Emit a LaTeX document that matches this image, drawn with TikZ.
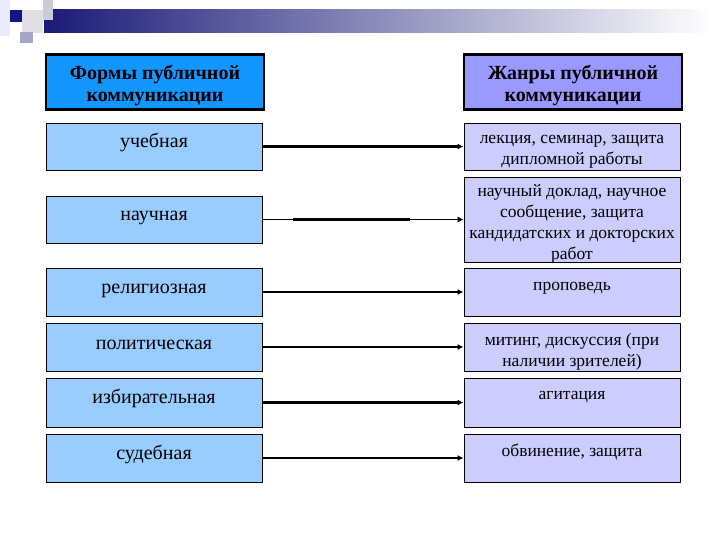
\documentclass[tikz,border=0pt]{standalone}
\usepackage{fontspec}
\setmainfont{Liberation Serif}
\usetikzlibrary{arrows.meta}
\definecolor{hblue}{RGB}{20,150,255}
\definecolor{rowblue}{RGB}{153,204,255}
\definecolor{hviolet}{RGB}{153,153,255}
\definecolor{rowviolet}{RGB}{204,204,255}
\definecolor{navy}{RGB}{26,26,120}
\definecolor{darksq}{RGB}{20,20,140}
\tikzset{
  hbox/.style={draw=black, line width=2.2pt, minimum width=218pt, minimum height=55pt, inner sep=0pt},
  lbox/.style={draw=black, line width=0.9pt, fill=rowblue, minimum width=216pt, inner sep=0pt},
  rbox/.style={draw=black, line width=0.9pt, fill=rowviolet, minimum width=216pt, inner sep=0pt},
  htext/.style={font=\fontsize{20}{22}\selectfont\bfseries, align=center, anchor=north, inner sep=0pt},
  ltext/.style={font=\fontsize{20}{22}\selectfont, anchor=base, inner sep=0pt},
  rtext/.style={font=\fontsize{17.5}{21}\selectfont, align=center, anchor=north, inner sep=0pt},
  conn/.style={-{Latex[length=6pt,width=6pt]}, line width=2.2pt},
  thinconn/.style={-{Latex[length=6pt,width=6pt]}, line width=0.8pt},
}
\begin{document}
\begin{tikzpicture}[x=1pt,y=-1pt]
\useasboundingbox (0,0) rectangle (720,540);
% decoration
\fill[white] (0,0) rectangle (720,540);
\shade[left color=navy, right color=white, shading angle=90] (44,10) rectangle (712,33);
\fill[black!6!blue!8] (0,0) rectangle (10,36);
\fill[blue!20!black!20] (43,0) rectangle (53,20);
\fill[blue!12!black!12] (22,10) rectangle (43,33);
\fill[blue!40!black!35] (20,32) rectangle (33,43);
\fill[darksq] (10,10) rectangle (22,22);
% headers
\node[hbox, fill=hblue] (H1) at (155,82) {};
\node[hbox, fill=hviolet] (H2) at (573,82) {};
\node[htext] (H1t) at (155,63.6) {\strut Формы публичной\\коммуникации};
\node[htext] (H2t) at (573,63.6) {\strut Жанры публичной\\коммуникации};
% left boxes
\node[lbox, minimum height=47pt] (L1) at (154,146.5) {};
\node[lbox, minimum height=47pt] (L2) at (154,219.5) {};
\node[lbox, minimum height=48pt] (L3) at (154,292) {};
\node[lbox, minimum height=48pt] (L4) at (154,347) {};
\node[lbox, minimum height=49pt] (L5) at (154,402.5) {};
\node[lbox, minimum height=48pt] (L6) at (154,458) {};
% right boxes
\node[rbox, minimum height=47pt] (R1) at (572,146.5) {};
\node[rbox, minimum height=85pt] (R2) at (572,219.5) {};
\node[rbox, minimum height=48pt] (R3) at (572,292) {};
\node[rbox, minimum height=48pt] (R4) at (572,347) {};
\node[rbox, minimum height=49pt] (R5) at (572,402.5) {};
\node[rbox, minimum height=48pt] (R6) at (572,458) {};
% left texts
\node[ltext] (L1t) at (154,148) {учебная};
\node[ltext] (L2t) at (154,221) {научная};
\node[ltext] (L3t) at (154,293) {религиозная};
\node[ltext] (L4t) at (154,349) {политическая};
\node[ltext] (L5t) at (154,403) {избирательная};
\node[ltext] (L6t) at (154,459) {судебная};
% right texts
\node[rtext] (R1t) at (572,128.8) {\strut лекция, семинар, защита\\дипломной работы};
\node[rtext] (R2t) at (572,181.8) {\strut научный доклад, научное\\сообщение, защита\\кандидатских и докторских\\работ};
\node[rtext] (R3t) at (572,275.3) {\strut проповедь};
\node[rtext] (R4t) at (572,330.3) {\strut митинг, дискуссия (при\\наличии зрителей)};
\node[rtext] (R5t) at (572,384.3) {\strut агитация};
\node[rtext] (R6t) at (572,441.3) {\strut обвинение, защита};
% connectors
\draw[conn] (L1) -- (R1);
\draw[thinconn] (L2) -- (R2);
\coordinate (s1) at (293,219.5);
\coordinate (s2) at (410,219.5);
\draw[line width=2.2pt] (s1) -- (s2);
\draw[conn] (L3) -- (R3);
\draw[conn] (L4) -- (R4);
\draw[conn] (L5) -- (R5);
\draw[conn] (L6) -- (R6);
\end{tikzpicture}
\end{document}
